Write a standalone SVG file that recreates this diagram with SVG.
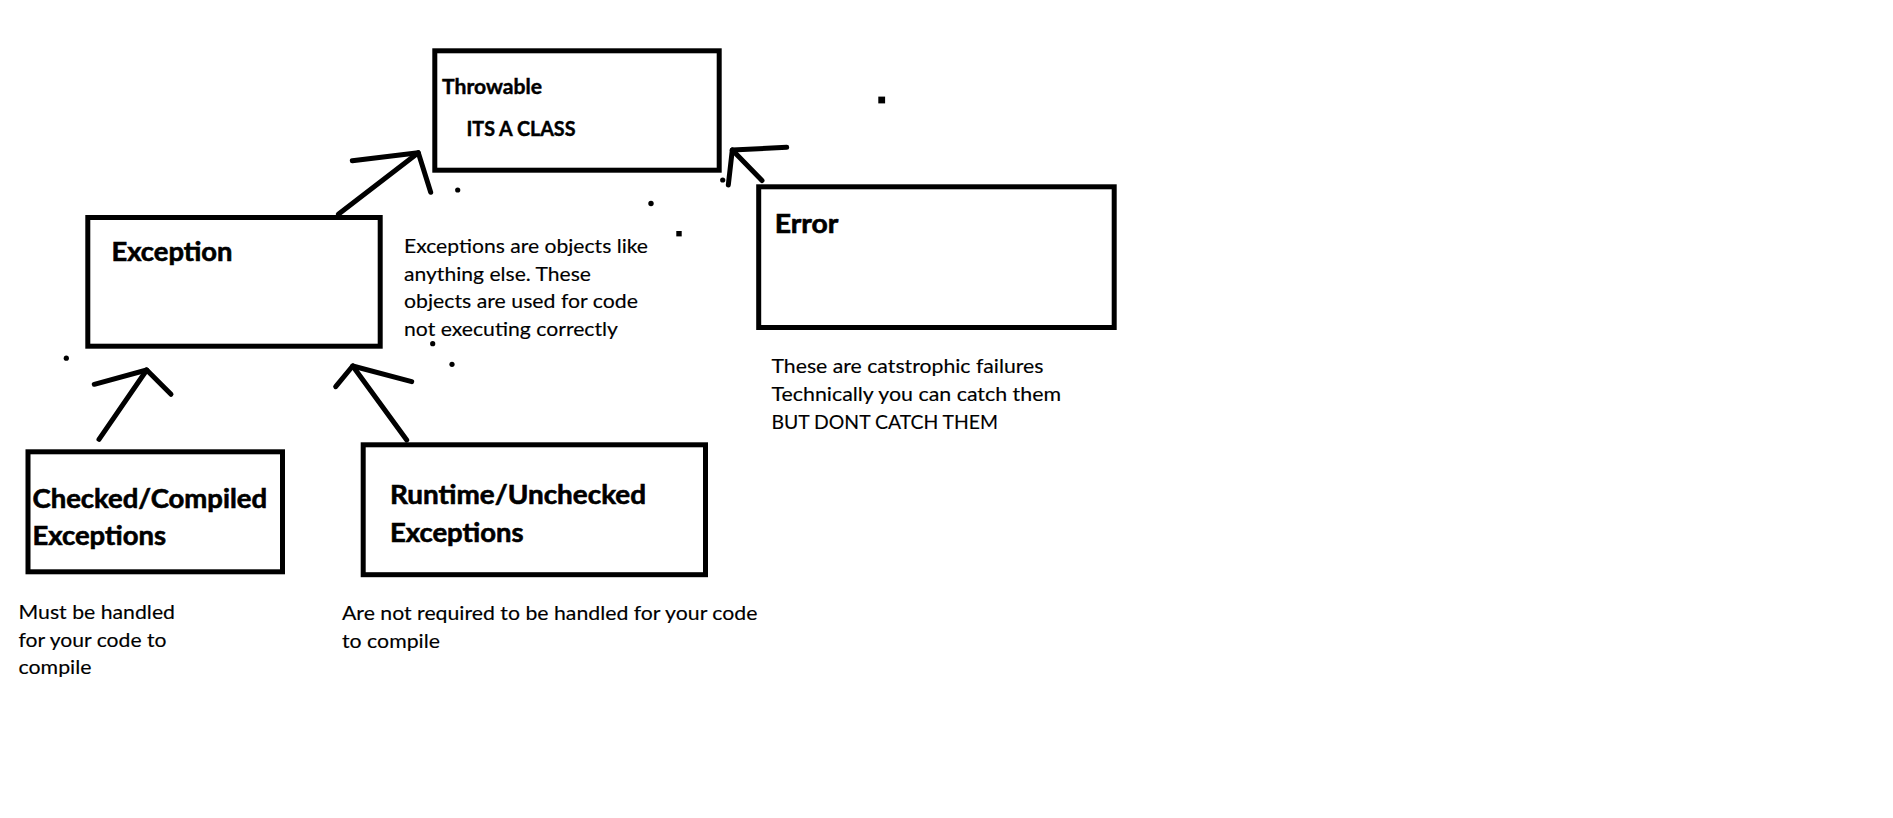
<svg xmlns="http://www.w3.org/2000/svg" width="1893" height="818" viewBox="0 0 1893 818">
<style>
.box{fill:none;stroke:#000;stroke-width:5}
.con{fill:none;stroke:#000;stroke-width:5;stroke-linecap:round;stroke-linejoin:round}
.t{font-family:Lato,"Open Sans","Liberation Sans",sans-serif;fill:#000}
.b26{font-weight:bold;font-size:26px;stroke:#000;stroke-width:0.6}
.b21{font-weight:bold;font-size:21.5px;stroke:#000;stroke-width:0.45}
.r{font-size:20px;stroke:#000;stroke-width:0.15}
.dot{fill:#000}
</style>
<rect width="1893" height="818" fill="#fff"/>
<g id="connectors">
  <g id="c-exception-throwable">
    <line class="con" x1="338.3" y1="214.3" x2="418.3" y2="152.7"/>
    <polyline class="con" points="352.3,160.7 418.3,152.7 430.7,192.3"/>
  </g>
  <g id="c-error-throwable">
    <line class="con" x1="762" y1="180.5" x2="732.3" y2="150"/>
    <polyline class="con" points="786.7,147.3 732.3,150 728.3,185"/>
  </g>
  <g id="c-checked-exception">
    <line class="con" x1="99" y1="439.3" x2="146.7" y2="370"/>
    <polyline class="con" points="94.3,384.3 146.7,370 171,394.3"/>
  </g>
  <g id="c-runtime-exception">
    <line class="con" x1="406.7" y1="440" x2="352.7" y2="366"/>
    <polyline class="con" points="335.7,386.7 352.7,366 411.7,381.7"/>
  </g>
</g>
<g id="throwable">
  <rect class="box" x="434.8" y="50.8" width="284.4" height="119.4"/>
  <text class="t b21" x="442" y="94" textLength="100" lengthAdjust="spacingAndGlyphs">Throwable</text>
  <text class="t b21" x="466.5" y="136" textLength="109" lengthAdjust="spacingAndGlyphs">ITS A CLASS</text>
</g>
<g id="exception">
  <rect class="box" x="87.8" y="217.5" width="292.4" height="128.7"/>
  <text class="t b26" x="111.5" y="261" textLength="121" lengthAdjust="spacingAndGlyphs">Exception</text>
</g>
<g id="error">
  <rect class="box" x="758.7" y="186.8" width="355.5" height="140.7"/>
  <text class="t b26" x="774.8" y="232.7" textLength="63.5" lengthAdjust="spacingAndGlyphs">Error</text>
</g>
<g id="checked">
  <rect class="box" x="28" y="451.8" width="254.5" height="120"/>
  <text class="t b26" x="32.5" y="508.3" textLength="234.5" lengthAdjust="spacingAndGlyphs">Checked/Compiled</text>
  <text class="t b26" x="32.5" y="545" textLength="133.5" lengthAdjust="spacingAndGlyphs">Exceptions</text>
</g>
<g id="runtime">
  <rect class="box" x="363.2" y="444.8" width="342.3" height="129.9"/>
  <text class="t b26" x="390" y="504.3" textLength="256" lengthAdjust="spacingAndGlyphs">Runtime/Unchecked</text>
  <text class="t b26" x="390" y="541.7" textLength="133.5" lengthAdjust="spacingAndGlyphs">Exceptions</text>
</g>
<g id="note-exceptions">
  <text class="t r" x="404" y="252.7" textLength="244" lengthAdjust="spacingAndGlyphs">Exceptions are objects like</text>
  <text class="t r" x="404" y="280.7" textLength="187" lengthAdjust="spacingAndGlyphs">anything else. These</text>
  <text class="t r" x="404" y="308.3" textLength="234" lengthAdjust="spacingAndGlyphs">objects are used for code</text>
  <text class="t r" x="404" y="336" textLength="214" lengthAdjust="spacingAndGlyphs">not executing correctly</text>
</g>
<g id="note-error">
  <text class="t r" x="771.5" y="372.7" textLength="272" lengthAdjust="spacingAndGlyphs">These are catstrophic failures</text>
  <text class="t r" x="771.5" y="400.7" textLength="289.5" lengthAdjust="spacingAndGlyphs">Technically you can catch them</text>
  <text class="t r" x="771.5" y="428.7" textLength="226.5" lengthAdjust="spacingAndGlyphs">BUT DONT CATCH THEM</text>
</g>
<g id="note-checked">
  <text class="t r" x="18.5" y="619.3" textLength="156.5" lengthAdjust="spacingAndGlyphs">Must be handled</text>
  <text class="t r" x="18.5" y="646.7" textLength="148" lengthAdjust="spacingAndGlyphs">for your code to</text>
  <text class="t r" x="18.5" y="674.3" textLength="73" lengthAdjust="spacingAndGlyphs">compile</text>
</g>
<g id="note-runtime">
  <text class="t r" x="342" y="620" textLength="415.5" lengthAdjust="spacingAndGlyphs">Are not required to be handled for your code</text>
  <text class="t r" x="342" y="647.7" textLength="98" lengthAdjust="spacingAndGlyphs">to compile</text>
</g>
<g id="specks">
  <circle class="dot" cx="66.3" cy="358.2" r="2.6"/>
  <circle class="dot" cx="457.7" cy="190" r="2.6"/>
  <circle class="dot" cx="432.7" cy="343.7" r="2.6"/>
  <circle class="dot" cx="452" cy="364.3" r="2.6"/>
  <circle class="dot" cx="651" cy="203.5" r="2.7"/>
  <circle class="dot" cx="722.7" cy="180" r="2.6"/>
  <rect class="dot" x="676.3" y="231" width="5.4" height="5.4"/>
  <rect class="dot" x="878.3" y="96.6" width="6.8" height="6.8"/>
</g>
</svg>
